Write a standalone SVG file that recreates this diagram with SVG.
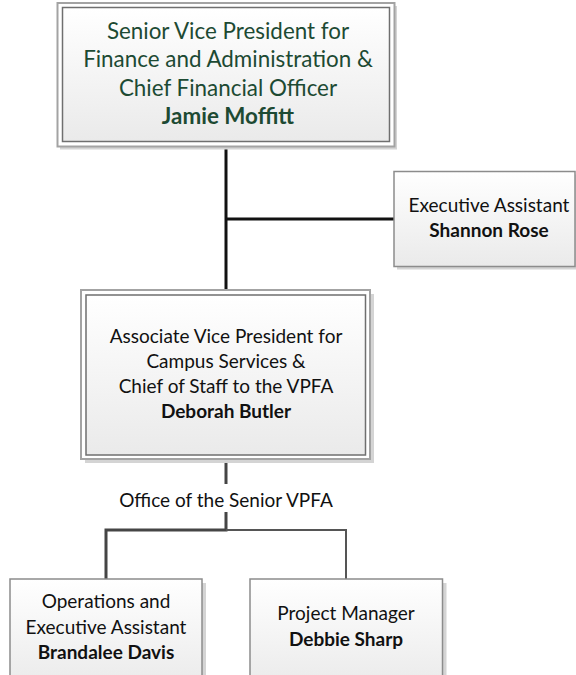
<svg xmlns="http://www.w3.org/2000/svg" width="576" height="675" viewBox="0 0 576 675">
<defs>
<linearGradient id="g" x1="0" y1="0" x2="0" y2="1">
<stop offset="0" stop-color="#ffffff"/>
<stop offset="1" stop-color="#eaeaea"/>
</linearGradient>
<style>
.sh{fill:#d4d4d4;stroke:none}
.out{fill:#ffffff;stroke:#a3a3a3;stroke-width:2}
.in{fill:url(#g);stroke:#6f6f6f;stroke-width:1.5}
.box{fill:url(#g);stroke:#8c8c8c;stroke-width:1.5}
text{font-family:Lato,"Open Sans","DejaVu Sans",sans-serif;text-anchor:middle;fill:#111}
.t{font-size:19px}
.big{font-size:22.4px;fill:#1d4a33}
.b{font-weight:bold}
.k{fill:none;stroke:#111;stroke-width:3}
.d{fill:none;stroke:#454545;stroke-width:3}
.d2{fill:none;stroke:#555;stroke-width:2}
</style>
</defs>
<g id="connectors">
<path class="k" d="M226 147V290"/>
<path class="k" d="M226 219H394"/>
<path class="d" d="M226 459V484"/>
<path class="d" d="M226 512V530H106V579"/>
<path class="d2" d="M226 530H346V579"/>
</g>
<g id="svp">
<rect class="sh" x="60" y="6" width="337" height="143.5"/>
<rect class="out" x="57.5" y="3" width="337" height="143.5"/>
<rect class="in" x="62.5" y="7.5" width="327" height="134"/>
<text class="big" x="228" y="38.5">Senior Vice President for</text>
<text class="big" x="228" y="67">Finance and Administration &amp;</text>
<text class="big" x="228" y="95.5">Chief Financial Officer</text>
<text class="big b" x="228" y="124">Jamie Moffitt</text>
</g>
<g id="exec">
<rect class="sh" x="397" y="174.5" width="181" height="95"/>
<rect class="box" x="394" y="171.5" width="181" height="95"/>
<text class="t" x="489" y="211.5">Executive Assistant</text>
<text class="t b" x="489" y="236.5">Shannon Rose</text>
</g>
<g id="avp">
<rect class="sh" x="85" y="294" width="289" height="169"/>
<rect class="out" x="81" y="290" width="289" height="169"/>
<rect class="in" x="86" y="295" width="279.5" height="160"/>
<text class="t" x="226" y="342.5">Associate Vice President for</text>
<text class="t" x="226" y="367.5">Campus Services &amp;</text>
<text class="t" x="226" y="392.5">Chief of Staff to the VPFA</text>
<text class="t b" x="226" y="417.5">Deborah Butler</text>
</g>
<g id="office">
<text class="t" x="226" y="506.5">Office of the Senior VPFA</text>
</g>
<g id="ops">
<rect class="sh" x="14" y="583" width="192" height="110"/>
<rect class="box" x="10" y="579" width="192" height="110"/>
<text class="t" x="106" y="607.5">Operations and</text>
<text class="t" x="106" y="633.5">Executive Assistant</text>
<text class="t b" x="106" y="658.5">Brandalee Davis</text>
</g>
<g id="pm">
<rect class="sh" x="254" y="583" width="192.5" height="110"/>
<rect class="box" x="250" y="579" width="192.5" height="110"/>
<text class="t" x="346" y="619.5">Project Manager</text>
<text class="t b" x="346" y="645.5">Debbie Sharp</text>
</g>
</svg>
